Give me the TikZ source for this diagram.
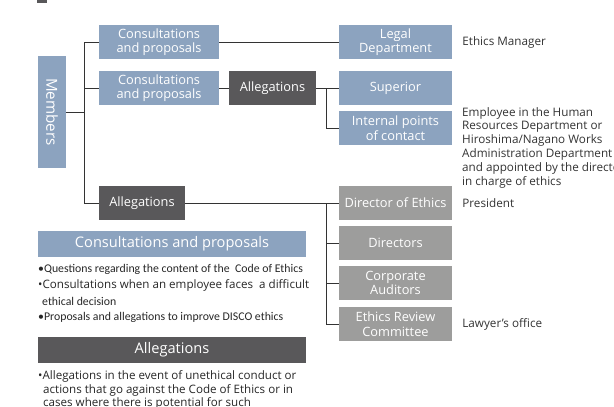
\documentclass[tikz,border=0pt]{standalone}
\usepackage{fontspec}
\setmainfont{Open Sans}
\newfontfamily\narrowfont{Carlito}
\usetikzlibrary{positioning}
\definecolor{EthBlue}{HTML}{8CA3BF}
\definecolor{EthDark}{HTML}{59585A}
\definecolor{EthGray}{HTML}{9D9D9C}
\tikzset{%
	box/.style={inner sep=0pt, text=white, align=center, font=\fontsize{12.8}{14.5}\selectfont},
	bluebox/.style={box, fill=EthBlue, minimum width=120pt, minimum height=34pt},
	darkbox/.style={box, fill=EthDark, minimum height=34pt},
	rolebox/.style={box, fill=EthBlue, minimum width=113pt, minimum height=34pt},
	graybox/.style={box, fill=EthGray, minimum width=113pt, minimum height=34pt},
	headbox/.style={box, minimum width=268pt, minimum height=26pt, font=\fontsize{14.6}{16}\selectfont},
	note/.style={inner sep=0pt, anchor=west, align=left, text=black!80, font=\fontsize{11.7}{13.8}\selectfont},
	item/.style={inner sep=0pt, anchor=west, text=black!85, font=\fontsize{11.6}{14}\selectfont},
	narrow/.style={font=\narrowfont\fontsize{11.8}{14}\selectfont},
	link/.style={draw=black!80, line width=0.9pt}
}

\begin{document}
\begin{tikzpicture}[x=1pt, y=-1pt]
	\clip (0,0) rectangle (614,407);
	% heading marker, cut off at the top
	\fill[EthDark] (37,-8) rectangle (47,3);

	% members and the ways in
	\node[bluebox, rotate=-90, minimum width=112pt, minimum height=28pt, font=\fontsize{15.2}{17}\selectfont] (members) at (52,112) {Members};
	\node[bluebox] (consult1) at (159,42) {Consultations\\and proposals};
	\node[bluebox] (consult2) at (159,88) {Consultations\\and proposals};
	\node[darkbox, minimum width=87pt] (alleg1) at (272.5,88) {Allegations};
	\node[darkbox, minimum width=86pt] (alleg2) at (142,203) {Allegations};

	% contact points
	\node[rolebox] (legal) at (395.5,42) {Legal\\Department};
	\node[rolebox] (superior) at (395.5,88) {Superior};
	\node[rolebox] (internal) at (395.5,128) {Internal points\\of contact};
	\node[graybox] (dirEthics) at (395.5,203) {Director of Ethics};
	\node[graybox] (directors) at (395.5,243) {Directors};
	\node[graybox] (auditors) at (395.5,283) {Corporate\\Auditors};
	\node[graybox] (review) at (395.5,324) {Ethics Review\\Committee};

	\node[note, right=10pt of legal] {Ethics Manager};
	\node[note, anchor=north west] (hrnote) at (462,107) {Employee in the Human\\Resources Department or\\Hiroshima/Nagano Works\\Administration Department\\and appointed by the director\\in charge of ethics};
	\node[note, right=10pt of dirEthics] {President};
	\node[note, right=10pt of review] {Lawyer's office};

	% tree
	\coordinate (trunk) at (84,112);
	\coordinate (fork) at (326,88);
	\draw[link] (members) -- (trunk);
	\draw[link] (consult1.west) -- (consult1.west -| trunk) -- (alleg2.west -| trunk) -- (alleg2.west);
	\draw[link] (consult2.west) -- (consult2.west -| trunk);
	\draw[link] (consult1) -- (legal);
	\draw[link] (consult2) -- (alleg1);
	\draw[link] (alleg1) -- (superior);
	\draw[link] (fork) |- (internal.west);
	\draw[link] (alleg2) -- (dirEthics);
	\draw[link] (dirEthics.west -| fork) |- (review.west);
	\draw[link] (directors.west -| fork) -- (directors.west);
	\draw[link] (auditors.west -| fork) -- (auditors.west);

	% key
	\node[headbox, fill=EthBlue] (consultHead) at (172,244) {Consultations and proposals};
	\node[item, narrow] at (38,269) {•Questions regarding the content of the \ Code of Ethics};
	\node[item] at (38,285) {•Consultations when an employee faces \ a difficult};
	\node[item, narrow] at (42,301) {ethical decision};
	\node[item, narrow] at (38,317) {•Proposals and allegations to improve DISCO ethics};

	\node[headbox, fill=EthDark] (allegHead) at (172,350) {Allegations};
	\node[item] at (38,376) {•Allegations in the event of unethical conduct or};
	\node[item] at (43,390) {actions that go against the Code of Ethics or in};
	\node[item] at (43,403) {cases where there is potential for such};
\end{tikzpicture}
\end{document}
